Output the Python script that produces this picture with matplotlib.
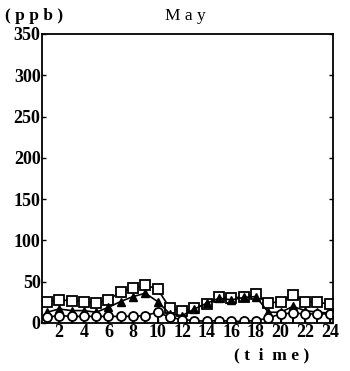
"""
Hourly concentration plot for May (ppb vs time of day).
"""
import matplotlib
matplotlib.use("Agg")
import matplotlib.pyplot as plt

hours = list(range(1, 25))
squares = [26, 28, 27, 26, 24, 28, 38, 42, 46, 41, 18, 14, 18, 23, 32, 30, 32, 35, 24, 26, 34, 26, 25, 23]
triangles = [13, 17, 15, 15, 13, 19, 26, 32, 36, 26, 11, 9, 17, 24, 30, 28, 31, 32, 13, 13, 20, 15, 13, 12]
circles = [7, 9, 8, 8, 8, 8, 8, 8, 9, 13, 7, 4, 3, 2, 3, 2, 2, 3, 6, 11, 12, 11, 11, 11]
xticks = [2, 4, 6, 8, 10, 12, 14, 16, 18, 20, 22, 24]
yticks = [0, 50, 100, 150, 200, 250, 300, 350]

plt.rcParams['font.family'] = ['Liberation Serif', 'DejaVu Serif']

fig = plt.figure(figsize=(3.5, 3.71), dpi=100)
ax = fig.add_axes([0.12, 0.1294, 0.831, 0.779])

# stems down to the axis for the lowest series
ax.vlines(hours, 0, circles, color='k', lw=1.4)
ax.plot(hours, squares, '-s', color='k', mfc='white', mec='k', mew=1.3, ms=6.5, lw=1.2)
ax.plot(hours, triangles, '-^', color='k', mfc='k', ms=6, lw=1.2)
ax.plot(hours, circles, '-o', color='k', mfc='white', mec='k', mew=1.3, ms=6.5, lw=1.2)

ax.set_xlim(0.6, 24.25)
ax.set_ylim(0, 350)
ax.set_xticks(xticks)
ax.set_xticks(hours, minor=True)
ax.set_yticks(yticks)
ax.tick_params(axis='both', direction='in', labelsize=13, length=3, width=1,
               right=True, pad=1)
ax.tick_params(axis='x', which='minor', direction='in', length=2)
ax.set_xticklabels([str(t) for t in xticks], fontweight='bold')
ax.set_yticklabels([str(t) for t in yticks], fontweight='bold')
for s in ax.spines.values():
    s.set_linewidth(1.3)

fig.text(0.015, 0.958, '( p p b )', fontsize=12.5, fontweight='bold', va='center')
fig.text(0.53, 0.958, 'M a y', fontsize=12.5, va='center', ha='center')
fig.text(0.775, 0.042, '( t  i  m e )', fontsize=12.5, fontweight='bold',
         va='center', ha='center')

fig.savefig('out.png', dpi=100)
